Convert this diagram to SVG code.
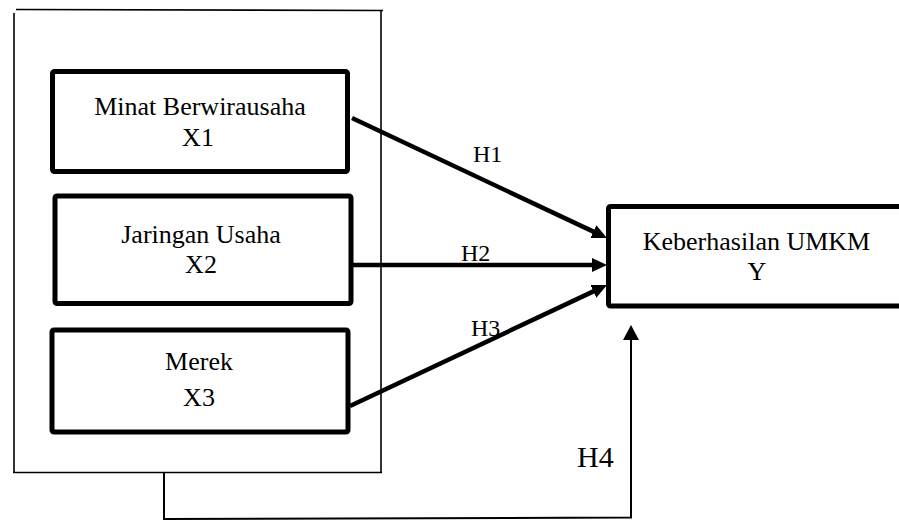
<svg xmlns="http://www.w3.org/2000/svg" width="899" height="522" viewBox="0 0 899 522">
<style>
.box{fill:#fff;stroke:#000;stroke-width:5}
.thin{fill:none;stroke:#000;stroke-width:1.6}
.t{font-family:"Liberation Serif","Times New Roman",serif;font-size:26px;fill:#000;text-anchor:middle}
.h{font-family:"Liberation Serif","Times New Roman",serif;font-size:24px;fill:#000}
.arr{fill:none;stroke:#000;stroke-width:4.5}
.arr4{fill:none;stroke:#000;stroke-width:2}
</style>
<defs>
<marker id="ah" markerUnits="userSpaceOnUse" markerWidth="16" markerHeight="16" refX="3" refY="7" orient="auto">
<path d="M0,0 L15,7 L0,14 z" fill="#000"/>
</marker>
<marker id="ah4" markerUnits="userSpaceOnUse" markerWidth="16" markerHeight="18" refX="3" refY="8" orient="auto">
<path d="M0,0 L15,8 L0,16 z" fill="#000"/>
</marker>
</defs>
<g id="group-frame">
<line class="thin" x1="16" y1="9.5" x2="383" y2="10.5"/>
<line class="thin" x1="14" y1="13" x2="14" y2="473"/>
<line class="thin" x1="381" y1="10" x2="381" y2="473"/>
<line class="thin" x1="13" y1="472.5" x2="382" y2="472.5"/>
</g>
<g id="node-x1">
<rect class="box" x="52.5" y="71.5" width="295" height="100" rx="2"/>
<text class="t" x="200" y="115">Minat Berwirausaha</text>
<text class="t" x="198" y="146">X1</text>
</g>
<g id="node-x2">
<rect class="box" x="55" y="196" width="296" height="107.5" rx="2"/>
<text class="t" x="201" y="243">Jaringan Usaha</text>
<text class="t" x="201" y="273">X2</text>
</g>
<g id="node-x3">
<rect class="box" x="52" y="330" width="296" height="102" rx="2"/>
<text class="t" x="199" y="370">Merek</text>
<text class="t" x="199" y="406">X3</text>
</g>
<g id="node-y">
<rect class="box" x="608.5" y="206.5" width="300" height="99.5" rx="2"/>
<text class="t" x="756.5" y="250">Keberhasilan UMKM</text>
<text class="t" x="757" y="280">Y</text>
</g>
<g id="connectors">
<line class="arr" x1="352" y1="118" x2="596.1" y2="232.9" marker-end="url(#ah)"/>
<line class="arr" x1="353" y1="265" x2="595" y2="265" marker-end="url(#ah)"/>
<line class="arr" x1="350" y1="406" x2="596.1" y2="290.1" marker-end="url(#ah)"/>
<polyline class="arr4" points="164,472 164,519 631,517.5 631,337" marker-end="url(#ah4)"/>
<text class="h" x="473" y="162">H1</text>
<text class="h" x="461" y="261">H2</text>
<text class="h" x="471" y="336">H3</text>
<text class="h" x="577" y="467" style="font-size:30px">H4</text>
</g>
</svg>
